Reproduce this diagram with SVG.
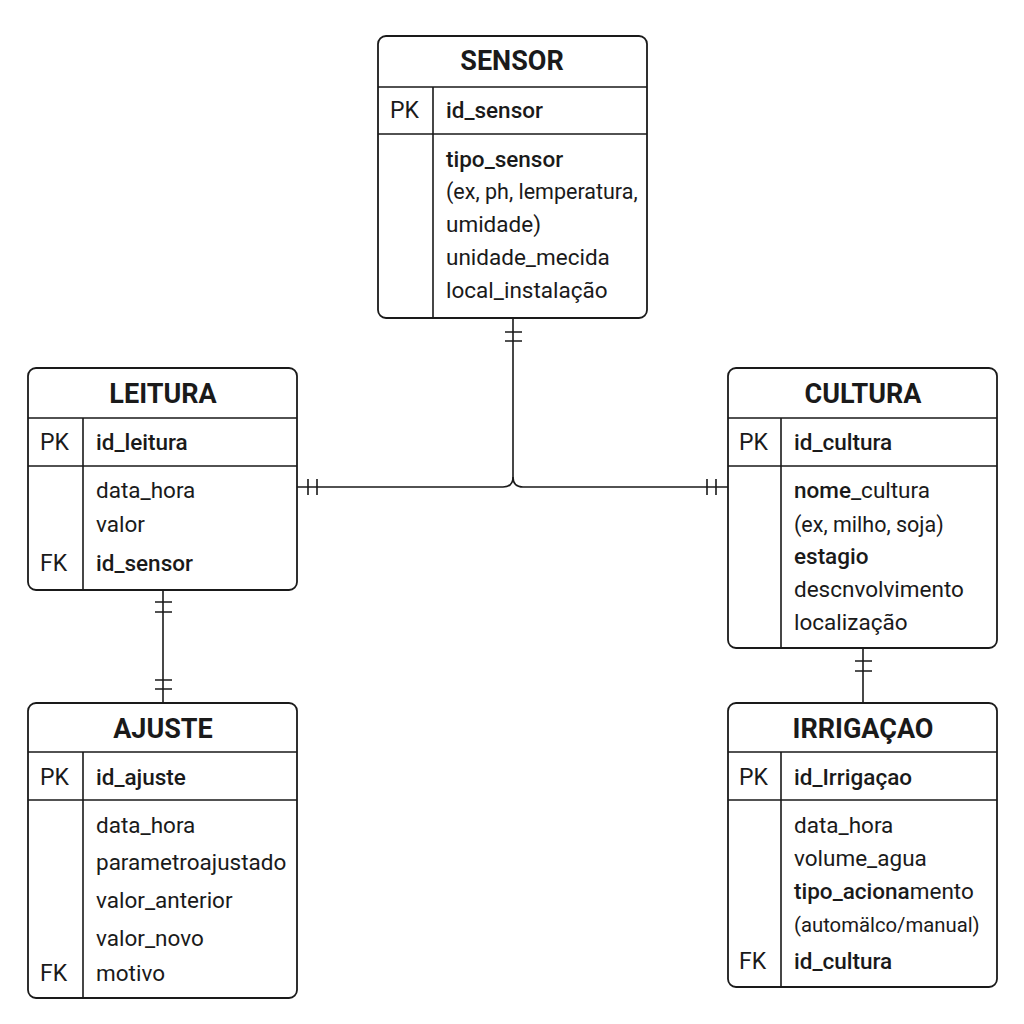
<svg xmlns="http://www.w3.org/2000/svg" width="1024" height="1024" viewBox="0 0 1024 1024">
<style>
.box{fill:#fff;stroke:#1a1a1a;stroke-width:1.8}
.ln{stroke:#1a1a1a;stroke-width:1.6;fill:none}
.t{font-family:Roboto,"Liberation Sans",sans-serif;fill:#1a1a1a}
.title{font-size:27px;font-weight:700;text-anchor:middle}
.k{font-size:23px}
.f{font-size:22.5px}
.b{font-weight:700}
.m{font-weight:500}
.s{font-size:21.5px}
.s2{font-size:20.3px}
.c{stroke:#1a1a1a;stroke-width:1.6;fill:none}
</style>
<rect width="1024" height="1024" fill="#fff"/>
<g id="connectors">
<path class="c" d="M513 318 V477 Q513 487 503 487 H297"/>
<path class="c" d="M513 477 Q513 487 523 487 H728"/>
<path class="c" d="M505 332 H522 M505 341 H522"/>
<path class="c" d="M308 479 V495 M317 479 V495"/>
<path class="c" d="M707 479 V495 M716 479 V495"/>
<path class="c" d="M163 590 V703"/>
<path class="c" d="M155 602 H172 M155 612 H172 M155 680 H172 M155 689 H172"/>
<path class="c" d="M863 648 V703"/>
<path class="c" d="M855 661 H872 M855 671 H872"/>
</g>
<g id="sensor">
<rect class="box" x="378" y="36" width="269" height="282" rx="8"/>
<path class="ln" d="M378 87 H647 M378 134 H647 M433 87 V318"/>
<text class="t title" x="512" y="70">SENSOR</text>
<text class="t k" x="390" y="118">PK</text>
<text class="t f m" x="446" y="118">id_sensor</text>
<text class="t f m" x="446" y="167">tipo_sensor</text>
<text class="t s" x="446" y="199">(ex, ph, lemperatura,</text>
<text class="t f" x="446" y="232">umidade)</text>
<text class="t f" x="446" y="265">unidade_mecida</text>
<text class="t f" x="446" y="298">local_instalação</text>
</g>
<g id="leitura">
<rect class="box" x="28" y="368" width="269" height="222" rx="8"/>
<path class="ln" d="M28 418 H297 M28 466 H297 M83 418 V590"/>
<text class="t title" x="163" y="403">LEITURA</text>
<text class="t k" x="40" y="450">PK</text>
<text class="t f m" x="96" y="450">id_leitura</text>
<text class="t f" x="96" y="498">data_hora</text>
<text class="t f" x="96" y="532">valor</text>
<text class="t k" x="40" y="571">FK</text>
<text class="t f m" x="96" y="571">id_sensor</text>
</g>
<g id="cultura">
<rect class="box" x="728" y="368" width="269" height="280" rx="8"/>
<path class="ln" d="M728 418 H997 M728 466 H997 M781 418 V648"/>
<text class="t title" x="863" y="403">CULTURA</text>
<text class="t k" x="739" y="450">PK</text>
<text class="t f m" x="794" y="450">id_cultura</text>
<text class="t f" x="794" y="498"><tspan class="m">nome</tspan>_cultura</text>
<text class="t s" x="794" y="532">(ex, milho, soja)</text>
<text class="t f m" x="794" y="564">estagio</text>
<text class="t f" x="794" y="597">descnvolvimento</text>
<text class="t f" x="794" y="630">localização</text>
</g>
<g id="ajuste">
<rect class="box" x="28" y="703" width="269" height="295" rx="8"/>
<path class="ln" d="M28 752 H297 M28 800 H297 M83 752 V998"/>
<text class="t title" x="163" y="738">AJUSTE</text>
<text class="t k" x="40" y="785">PK</text>
<text class="t f m" x="96" y="785">id_ajuste</text>
<text class="t f" x="96" y="833">data_hora</text>
<text class="t f" x="96" y="870">parametroajustado</text>
<text class="t f" x="96" y="908">valor_anterior</text>
<text class="t f" x="96" y="946">valor_novo</text>
<text class="t k" x="40" y="981">FK</text>
<text class="t f" x="96" y="981">motivo</text>
</g>
<g id="irrigacao">
<rect class="box" x="728" y="703" width="269" height="284" rx="8"/>
<path class="ln" d="M728 752 H997 M728 800 H997 M781 752 V987"/>
<text class="t title" x="863" y="738">IRRIGAÇAO</text>
<text class="t k" x="739" y="785">PK</text>
<text class="t f m" x="794" y="785">id_Irrigaçao</text>
<text class="t f" x="794" y="833">data_hora</text>
<text class="t f" x="794" y="866">volume_agua</text>
<text class="t f" x="794" y="899"><tspan class="m">tipo_aciona</tspan>mento</text>
<text class="t s2" x="794" y="932">(automälco/manual)</text>
<text class="t k" x="739" y="969">FK</text>
<text class="t f m" x="794" y="969">id_cultura</text>
</g>
</svg>
